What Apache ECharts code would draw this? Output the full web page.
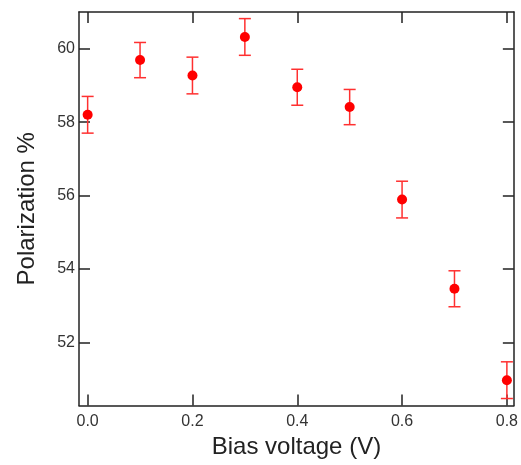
<!DOCTYPE html>
<html>
<head>
<meta charset="utf-8">
<script src="https://cdn.jsdelivr.net/npm/echarts@6/dist/echarts.min.js"></script>
<style>
html,body{margin:0;padding:0;background:#fff;}
#chart{width:521px;height:465px;}
</style>
</head>
<body>
<div id="chart"></div>
<script>
const biasVoltage = [0.0, 0.1, 0.2, 0.3, 0.4, 0.5, 0.6, 0.7, 0.8];
const polarization = [58.20, 59.69, 59.27, 60.32, 58.95, 58.41, 55.89, 53.46, 50.97];
const polarizationErr = [0.50, 0.48, 0.50, 0.50, 0.49, 0.48, 0.50, 0.49, 0.50];
const xTicks = [0.0, 0.2, 0.4, 0.6, 0.8];
const yTicks = [52, 54, 56, 58, 60];
const xTitle = 'Bias voltage (V)';
const yTitle = 'Polarization %';

const chart = echarts.init(document.getElementById('chart'), null, {renderer: 'canvas'});

const xMin = -0.0165, xMax = 0.8133, yMin = 50.28, yMax = 61.0;
const axisColor = '#222';
const font = 'Liberation Sans, Arial, sans-serif';

function xAxisBase(show) {
  return {
    type: 'value', min: xMin, max: xMax,
    axisLine: {show: true, onZero: false, lineStyle: {color: axisColor, width: 1.5}},
    axisTick: {show: true, inside: true, length: 11, customValues: xTicks, lineStyle: {color: axisColor, width: 1.5}},
    axisLabel: {show: show, customValues: xTicks, formatter: v => v.toFixed(1), color: '#333', fontSize: 16, fontFamily: font, margin: 8},
    splitLine: {show: false}
  };
}
function yAxisBase(show) {
  return {
    type: 'value', min: yMin, max: yMax,
    axisLine: {show: true, onZero: false, lineStyle: {color: axisColor, width: 1.5}},
    axisTick: {show: true, inside: true, length: 11, customValues: yTicks, lineStyle: {color: axisColor, width: 1.5}},
    axisLabel: {show: show, customValues: yTicks, formatter: v => String(v), color: '#333', fontSize: 16, fontFamily: font, margin: 4},
    splitLine: {show: false}
  };
}

const xb = xAxisBase(true);
xb.position = 'bottom';
xb.name = xTitle; xb.nameLocation = 'middle'; xb.nameGap = 30;
xb.nameTextStyle = {fontSize: 24, fontFamily: font, color: '#222'};
const xt = xAxisBase(false); xt.position = 'top';

const yl = yAxisBase(true);
yl.position = 'left';
yl.name = yTitle; yl.nameLocation = 'middle'; yl.nameGap = 40;
yl.nameTextStyle = {fontSize: 24, fontFamily: font, color: '#222'};
const yr = yAxisBase(false); yr.position = 'right';

const pts = biasVoltage.map((x, i) => [x, polarization[i]]);
const errData = biasVoltage.map((x, i) => [x, polarization[i] - polarizationErr[i], polarization[i] + polarizationErr[i]]);

chart.setOption({
  animation: false,
  backgroundColor: '#fff',
  grid: {left: 79, top: 12, right: 4, bottom: 59.5, containLabel: false},
  xAxis: [xb, xt],
  yAxis: [yl, yr],
  series: [
    {
      type: 'custom',
      xAxisIndex: 0, yAxisIndex: 0,
      data: errData,
      renderItem: function (params, api) {
        const x = api.value(0);
        const lo = api.coord([x, api.value(1)]);
        const hi = api.coord([x, api.value(2)]);
        const hw = 6;
        const st = {stroke: '#ff3030', lineWidth: 1.5};
        return {
          type: 'group',
          children: [
            {type: 'line', shape: {x1: lo[0], y1: lo[1], x2: hi[0], y2: hi[1]}, style: st},
            {type: 'line', shape: {x1: lo[0] - hw, y1: lo[1], x2: lo[0] + hw, y2: lo[1]}, style: st},
            {type: 'line', shape: {x1: hi[0] - hw, y1: hi[1], x2: hi[0] + hw, y2: hi[1]}, style: st}
          ]
        };
      },
      z: 2
    },
    {
      type: 'scatter',
      xAxisIndex: 0, yAxisIndex: 0,
      data: pts,
      symbol: 'circle',
      symbolSize: 10,
      itemStyle: {color: '#ff0000', opacity: 1},
      z: 3
    }
  ]
});
</script>
</body>
</html>
